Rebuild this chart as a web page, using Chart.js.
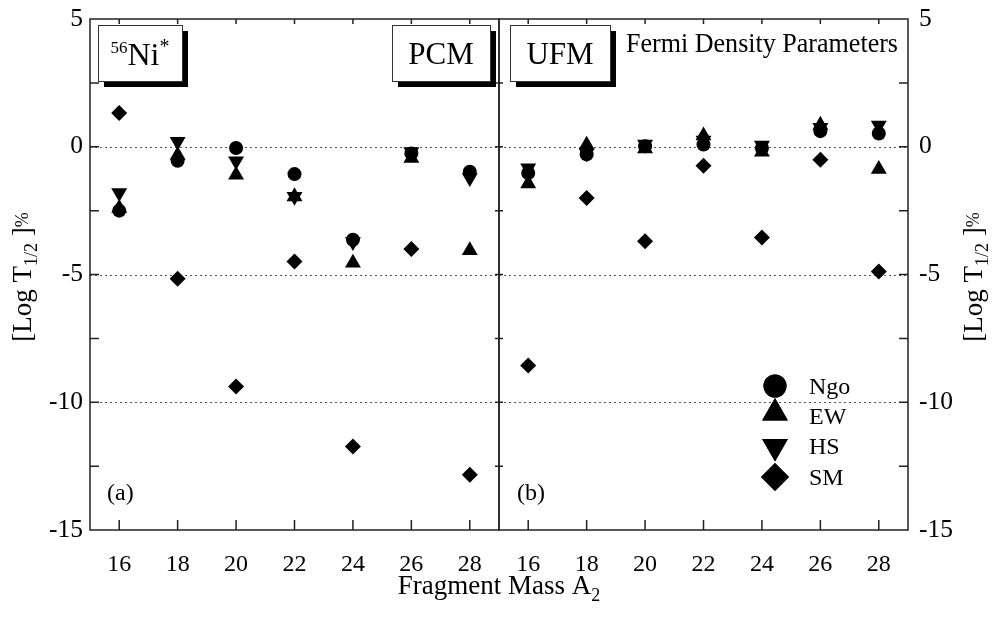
<!DOCTYPE html>
<html><head><meta charset="utf-8">
<script src="https://cdn.jsdelivr.net/npm/chart.js@4/dist/chart.umd.min.js"></script>
<style>
html,body{margin:0;padding:0;background:#fff;}
#wrap{position:relative;width:999px;height:618px;background:#fff;}
canvas{position:absolute;left:0;top:0;}
</style></head><body>
<div id="wrap"><canvas id="c1" width="999" height="618"></canvas><canvas id="c2" width="999" height="618"></canvas></div>
<script>
// ---- data ----
const fragmentMass = [16, 18, 20, 22, 24, 26, 28];
const yTicks = [-15, -10, -5, 0, 5];
const seriesNames = ['Ngo', 'EW', 'HS', 'SM'];
// (a) PCM
const pcmNgo = [-2.5, -0.55, -0.05, -1.07, -3.64, -0.26, -0.98];
const pcmEW  = [-2.4, -0.33, -1.1, -1.95, -4.55, -0.45, -4.06];
const pcmHS  = [-1.8, 0.2, -0.56, -1.95, -3.72, -0.2, -1.22];
const pcmSM  = [1.32, -5.17, -9.38, -4.49, -11.73, -4.0, -12.84];
// (b) UFM
const ufmNgo = [-1.03, -0.3, 0.02, 0.09, -0.05, 0.61, 0.52];
const ufmEW  = [-1.44, 0.07, -0.07, 0.43, -0.2, 0.85, -0.88];
const ufmHS  = [-0.84, -0.25, 0.09, 0.25, 0.05, 0.75, 0.84];
const ufmSM  = [-8.56, -2.01, -3.7, -0.74, -3.55, -0.51, -4.88];

const SERIF = '"Liberation Serif", "DejaVu Serif", serif';
const styles = [
  {pointStyle: 'circle', pointRadius: 7, pointRotation: 0},
  {pointStyle: 'triangle', pointRadius: 9.2, pointRotation: 0},
  {pointStyle: 'triangle', pointRadius: 9.2, pointRotation: 180},
  {pointStyle: 'rectRot', pointRadius: 8, pointRotation: 0}
];
const legendSize = [11.5, 14.9, 14.9, 14];

function mkDatasets(arrs) {
  return arrs.map((vals, i) => Object.assign({
    label: seriesNames[i],
    data: fragmentMass.map((x, j) => ({x: x, y: vals[j]})),
    pointBackgroundColor: '#000', pointBorderColor: '#000', pointBorderWidth: 0,
    showLine: false
  }, styles[i]));
}

function rich(ctx, segs, x, y, align) {
  let total = 0;
  segs.forEach(s => { ctx.font = s.size + 'px ' + SERIF; s.w = ctx.measureText(s.t).width; total += s.w; });
  let cx = align === 'center' ? x - total / 2 : x;
  ctx.textAlign = 'left'; ctx.textBaseline = 'alphabetic';
  segs.forEach(s => { ctx.font = s.size + 'px ' + SERIF; ctx.fillText(s.t, cx, y + (s.dy || 0)); cx += s.w; });
}
function shadowBox(ctx, x0, y0, x1, y1) {
  ctx.fillStyle = '#000';
  ctx.fillRect(x0 + 6, y0 + 6, x1 - x0, y1 - y0);
  ctx.fillStyle = '#fff';
  ctx.fillRect(x0, y0, x1 - x0, y1 - y0);
  ctx.strokeStyle = '#333'; ctx.lineWidth = 1;
  ctx.strokeRect(x0 + 0.5, y0 + 0.5, x1 - x0, y1 - y0);
}
function yTitle(ctx, cx, cy) {
  ctx.save();
  ctx.translate(cx, cy); ctx.rotate(-Math.PI / 2);
  ctx.fillStyle = '#000';
  rich(ctx, [{t: '[Log T', size: 27}, {t: '1/2', size: 18, dy: 6}, {t: ' ]', size: 27}, {t: '%', size: 18, dy: -3}], 0, 9, 'center');
  ctx.restore();
}

const framePlugin = {
  id: 'frame',
  beforeDatasetsDraw(chart, args, opts) {
    const ctx = chart.ctx, a = chart.chartArea, ys = chart.scales.y;
    ctx.save();
    ctx.strokeStyle = '#555'; ctx.lineWidth = 1; ctx.setLineDash([2, 3]);
    [0, -5, -10].forEach(v => {
      const py = Math.round(ys.getPixelForValue(v)) + 0.5;
      ctx.beginPath(); ctx.moveTo(a.left, py); ctx.lineTo(a.right, py); ctx.stroke();
    });
    ctx.restore();
  },
  afterDraw(chart, args, opts) {
    const ctx = chart.ctx, a = chart.chartArea, ys = chart.scales.y, xs = chart.scales.x;
    ctx.save();
    ctx.strokeStyle = '#222'; ctx.lineWidth = 1.5; ctx.setLineDash([]);
    ctx.beginPath();
    for (let v = -12.5; v <= 2.5; v += 2.5) {
      const py = ys.getPixelForValue(v);
      if (opts.side === 'left') { ctx.moveTo(a.left, py); ctx.lineTo(a.left + 9, py); ctx.moveTo(a.right, py); ctx.lineTo(a.right - 4, py); }
      else { ctx.moveTo(a.right, py); ctx.lineTo(a.right - 9, py); ctx.moveTo(a.left, py); ctx.lineTo(a.left + 4, py); }
    }
    fragmentMass.forEach(v => {
      const px = xs.getPixelForValue(v);
      ctx.moveTo(px, a.bottom); ctx.lineTo(px, a.bottom - 10);
      ctx.moveTo(px, a.top); ctx.lineTo(px, a.top + 5);
    });
    ctx.stroke();
    ctx.strokeRect(a.left, a.top, a.right - a.left, a.bottom - a.top);
    ctx.restore();
    opts.extra(ctx, chart);
  }
};

function mkChart(id, arrs, side, extra) {
  return new Chart(document.getElementById(id), {
    type: 'scatter',
    data: {datasets: mkDatasets(arrs)},
    plugins: [framePlugin],
    options: {
      responsive: false, animation: false, devicePixelRatio: 1,
      layout: {padding: side === 'left' ? {left: 0, right: 500, top: 19, bottom: 0} : {left: 499, right: 0, top: 19, bottom: 0}},
      plugins: {legend: {display: false}, tooltip: {enabled: false}, frame: {side: side, extra: extra}},
      scales: {
        x: {
          type: 'linear', min: 15, max: 29, position: 'bottom',
          grid: {display: false, drawTicks: false}, border: {display: false},
          afterBuildTicks(s) { s.ticks = fragmentMass.map(v => ({value: v})); },
          afterFit(s) { s.height = 88; },
          ticks: {padding: 20, color: '#000', font: {family: SERIF, size: 24}, callback: v => String(v)}
        },
        y: {
          type: 'linear', min: -15, max: 5, position: side,
          grid: {display: false, drawTicks: false}, border: {display: false},
          afterBuildTicks(s) { s.ticks = yTicks.map(v => ({value: v})); },
          afterFit(s) { s.width = side === 'left' ? 90 : 91; },
          ticks: {padding: side === 'left' ? 7 : 11, color: '#000', font: {family: SERIF, size: 25.5, lineHeight: 0.5}, callback: v => String(v)}
        }
      }
    }
  });
}

mkChart('c1', [pcmNgo, pcmEW, pcmHS, pcmSM], 'left', (ctx, chart) => {
  ctx.save();
  yTitle(ctx, 22, 277);
  ctx.fillStyle = '#000';
  rich(ctx, [{t: 'Fragment Mass A', size: 27}, {t: '2', size: 18, dy: 7}], 499, 594, 'center');
  shadowBox(ctx, 98, 25, 182, 81);
  ctx.fillStyle = '#000';
  rich(ctx, [{t: '56', size: 17, dy: -12}, {t: 'Ni', size: 32}, {t: '*', size: 20, dy: -12}], 140, 65, 'center');
  shadowBox(ctx, 392, 25, 490, 81);
  ctx.fillStyle = '#000';
  ctx.font = '31px ' + SERIF; ctx.textAlign = 'center'; ctx.textBaseline = 'alphabetic';
  ctx.fillText('PCM', 441, 64);
  ctx.font = '24px ' + SERIF; ctx.textAlign = 'left';
  ctx.fillText('(a)', 107, 500);
  ctx.restore();
});

mkChart('c2', [ufmNgo, ufmEW, ufmHS, ufmSM], 'right', (ctx, chart) => {
  ctx.save();
  yTitle(ctx, 973, 277);
  shadowBox(ctx, 510, 25, 610, 81);
  ctx.fillStyle = '#000';
  ctx.font = '31px ' + SERIF; ctx.textAlign = 'center'; ctx.textBaseline = 'alphabetic';
  ctx.fillText('UFM', 560, 64);
  ctx.font = '27px ' + SERIF; ctx.textAlign = 'left';
  ctx.fillText('Fermi Density Parameters', 626, 52, 272);
  ctx.font = '24px ' + SERIF;
  ctx.fillText('(b)', 517, 500);
  const ly = [386, 413, 446.5, 477], tb = [394, 424, 454, 485];
  chart.data.datasets.forEach((ds, i) => {
    ctx.fillStyle = '#000'; ctx.strokeStyle = '#000'; ctx.lineWidth = 0;
    Chart.helpers.drawPoint(ctx, {pointStyle: ds.pointStyle, rotation: ds.pointRotation, radius: legendSize[i], borderWidth: 0}, 775, ly[i]);
    ctx.fill();
    ctx.fillStyle = '#000'; ctx.font = '24px ' + SERIF; ctx.textAlign = 'left';
    ctx.fillText(ds.label, 809, tb[i]);
  });
  ctx.restore();
});
</script></body></html>
